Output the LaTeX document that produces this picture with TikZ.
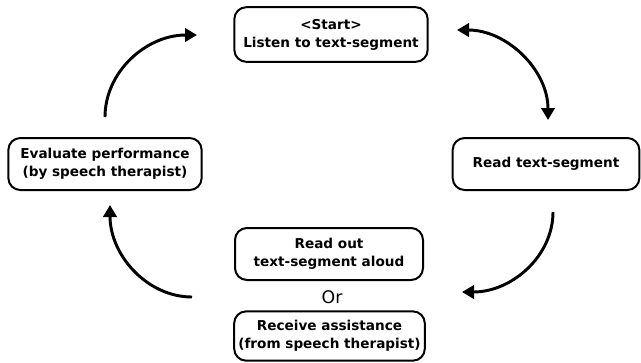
\documentclass[tikz,border=0pt]{standalone}
\usepackage{fontspec}
\setmainfont{DejaVu Sans}
\usetikzlibrary{arrows.meta}

\begin{document}
\begin{tikzpicture}[x=0.75pt, y=-0.75pt,
		stage/.style={draw, line width=1.5pt, rounded corners=9pt, align=center, inner sep=0pt,
			font=\bfseries\fontsize{10.2}{13.5}\selectfont, minimum height=39pt},
		flow/.style={line width=2.2pt, -{Triangle[length=9pt, width=10pt]}},
		twoway/.style={line width=2.2pt, {Triangle[length=9pt, width=10pt]}-{Triangle[length=9pt, width=10pt]}}]
		\path[use as bounding box] (0, 0) rectangle (641, 362);
		\node[stage, minimum width=145pt, minimum height=41pt] (start) at (331, 34.5) {<Start>\\Listen to text-segment};
		\node[stage, minimum width=140pt] (read) at (546, 164) {Read text-segment};
		\node[stage, minimum width=141pt] (aloud) at (329, 254) {Read out\\text-segment aloud};
		\node (or) at (332, 297) {\fontsize{13}{14}\selectfont Or};
		\node[stage, minimum width=143pt, minimum height=37pt] (assist) at (329.5, 336) {Receive assistance\\(from speech therapist)};
		\node[stage, minimum width=145pt] (eval) at (105, 164) {Evaluate performance\\(by speech therapist)};
		
		\coordinate (tlA) at (105, 117);
		\coordinate (tlB) at (197, 35);
		\coordinate (trA) at (457, 30);
		\coordinate (trB) at (548, 120);
		\coordinate (brA) at (553, 212);
		\coordinate (brB) at (462, 292);
		\coordinate (blA) at (192, 297);
		\coordinate (blB) at (110, 205);
		
		\draw[flow] (tlA) .. controls (105, 72) and (146, 35) .. (tlB);
		\draw[twoway] (trA) .. controls (507, 30) and (548, 70) .. (trB);
		\draw[flow] (brA) .. controls (553, 256) and (512, 292) .. (brB);
		\draw[flow] (blA) .. controls (147, 297) and (110, 255) .. (blB);
	\end{tikzpicture}
\end{document}
